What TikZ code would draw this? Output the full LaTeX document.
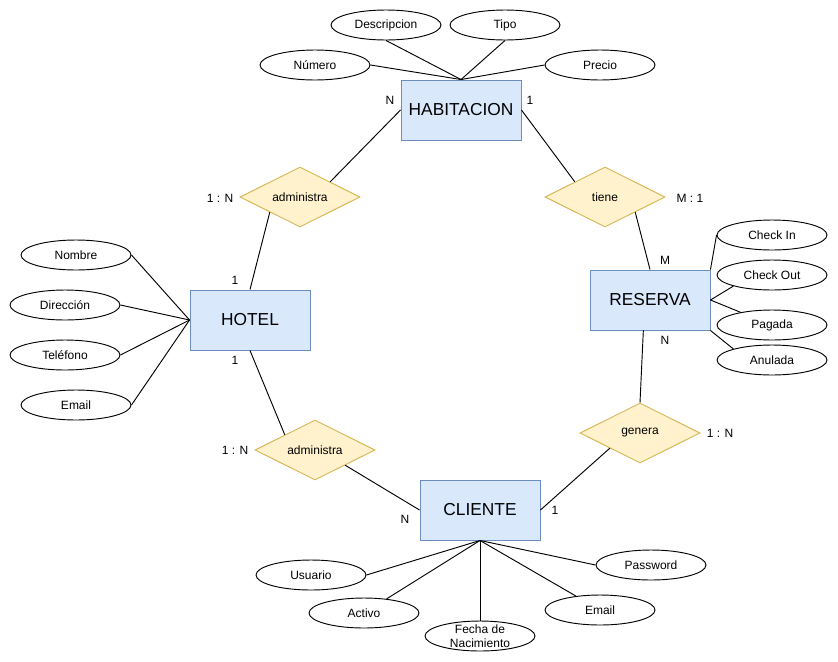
\documentclass[tikz,border=0pt]{standalone}
\usepackage{fontspec}
\setmainfont{Liberation Sans}
\usetikzlibrary{shapes.geometric,calc}
\definecolor{entfill}{HTML}{DAE8FC}
\definecolor{entdraw}{HTML}{6C8EBF}
\definecolor{relfill}{HTML}{FFF2CC}
\definecolor{reldraw}{HTML}{D6B656}

\begin{document}
\begin{tikzpicture}[x=0.75pt,y=-0.75pt,line width=0.7pt,
  entity/.style={draw=entdraw,fill=entfill,minimum width=90pt,minimum height=45pt,font=\fontsize{13}{15}\selectfont},
  relation/.style={diamond,draw=reldraw,fill=relfill,shape aspect=2,inner sep=0pt,minimum width=90pt,minimum height=45pt,font=\fontsize{9}{11}\selectfont},
  attr/.style={ellipse,draw,fill=white,inner sep=0pt,minimum width=82.5pt,minimum height=22.5pt,font=\fontsize{9}{11}\selectfont},
  card/.style={inner sep=1pt,font=\fontsize{9}{11}\selectfont}]
\useasboundingbox (0,0) rectangle (838,661);

% entidades
\node[entity] (hab) at (461,110) {HABITACION};
\node[entity] (hotel) at (250,320) {HOTEL};
\node[entity] (res) at (650,300) {RESERVA};
\node[entity] (cli) at (480,510) {CLIENTE};

% relaciones
\node[relation] (admA) at (300,197) {administra};
\node[relation] (tiene) at (605,197) {tiene};
\node[relation] (admB) at (315,450) {administra};
\node[relation] (gen) at (640,433) {genera};

\draw ($(admA.north)!0.5!(admA.east)$) -- (hab.west);
\draw ($(admA.west)!0.5!(admA.south)$) -- (hotel.north);
\draw (hotel.south) -- ($(admB.west)!0.5!(admB.north)$);
\draw ($(admB.south)!0.5!(admB.east)$) -- (cli.west);
\draw (hab.east) -- ($(tiene.west)!0.5!(tiene.north)$);
\draw ($(tiene.south)!0.5!(tiene.east)$) -- (res.north);
\draw ([xshift=-5pt]res.south) -- (gen.north);
\draw ($(gen.west)!0.5!(gen.south)$) -- (cli.east);

% atributos HABITACION
\node[attr] (desc) at (386,25) {Descripcion};
\node[attr] (tipo) at (505,25) {Tipo};
\node[attr] (num) at (315,65) {Número};
\node[attr] (precio) at (600,65) {Precio};
\draw (desc.south) -- (hab.north);
\draw (tipo.south) -- (hab.north);
\draw (num.east) -- (hab.north);
\draw (precio.west) -- (hab.north);

% atributos HOTEL
\node[attr] (nombre) at (76,255) {Nombre};
\node[attr] (direc) at (65,305) {Dirección};
\node[attr] (telef) at (65,355) {Teléfono};
\node[attr] (emailH) at (76,405) {Email};
\foreach \a in {nombre,direc,telef,emailH}
  \draw (\a.east) -- (hotel.west);

% atributos RESERVA
\node[attr] (checkin) at (772,235) {Check In};
\node[attr] (checkout) at (772,275) {Check Out};
\node[attr] (pagada) at (772,325) {Pagada};
\node[attr] (anulada) at (772,360) {Anulada};
\draw (checkin.west) -- (res.north east);
\draw (checkout.196) -- (res.east);
\draw (pagada.158) -- (res.east);
\draw (anulada.164) -- (res.south east);

% atributos CLIENTE
\node[attr] (usuario) at (311,575) {Usuario};
\node[attr] (activo) at (364,613) {Activo};
\node[attr] (fecha) at (480,636) {};
\node[inner sep=0pt,align=center,font=\fontsize{9}{10.5}\selectfont] (fechaTxt) at (480,636) {Fecha de\\Nacimiento};
\node[attr] (emailC) at (600,610) {Email};
\node[attr] (passw) at (651,565) {Password};
\draw (usuario.east) -- (cli.south);
\draw (activo) -- (cli.south);
\draw (fecha.north) -- (cli.south);
\draw (emailC) -- (cli.south);
\draw (passw.west) -- (cli.south);

% cardinalidades
\node[card] (cHabN) at (390,100) {N};
\node[card] (cHab1) at (530,100) {1};
\node[card] (cAdmA) at (220,198) {1 : N};
\node[card] (cTiene) at (690,198) {M : 1};
\node[card] (cHotT) at (235,280) {1};
\node[card] (cHotB) at (235,360) {1};
\node[card] (cResM) at (665,260) {M};
\node[card] (cResN) at (665,340) {N};
\node[card] (cAdmB) at (235,450) {1 : N};
\node[card] (cGen) at (720,433) {1 : N};
\node[card] (cCliN) at (405,519) {N};
\node[card] (cCli1) at (555,510) {1};

\end{tikzpicture}
\end{document}
